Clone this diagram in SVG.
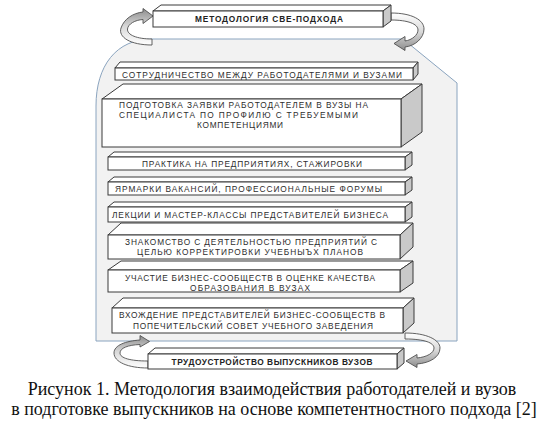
<svg xmlns="http://www.w3.org/2000/svg" width="548" height="428" viewBox="0 0 548 428">
<defs>
<linearGradient id="gv" x1="0" y1="0" x2="0" y2="1">
<stop offset="0" stop-color="#ffffff"/>
<stop offset="0.5" stop-color="#d9d9d9"/>
<stop offset="1" stop-color="#8c8c8c"/>
</linearGradient>
<linearGradient id="gv2" x1="0" y1="0" x2="0" y2="1">
<stop offset="0" stop-color="#8c8c8c"/>
<stop offset="0.5" stop-color="#d9d9d9"/>
<stop offset="1" stop-color="#ffffff"/>
</linearGradient>
</defs>
<style>
.front{fill:#ffffff;stroke:#3a3a3a;stroke-width:1}
.topf{fill:#ffffff;stroke:#3a3a3a;stroke-width:1;stroke-linejoin:round}
.side{fill:#c9c9c9;stroke:#3a3a3a;stroke-width:1;stroke-linejoin:round}
.t{font-family:"Liberation Sans","Open Sans",sans-serif;font-size:8.3px;fill:#2e2e2e;text-anchor:middle}
.b{font-weight:bold;fill:#222222}
.loop{stroke:#505050;stroke-width:0.9;stroke-linejoin:round}
.cap{font-family:"Liberation Serif","Times New Roman",serif;font-size:18px;fill:#111111;text-anchor:middle}
</style>
<rect width="548" height="428" fill="#ffffff"/>

<g id="panel">
<path d="M96,341 L457,341 L457,83 L403,39 L152,39 C116,39 96,66 96,106 Z" fill="#f2f2f2" stroke="#8aa4bf" stroke-width="1"/>
</g>

<g id="connectors">
<path class="loop" fill="url(#gv2)" d="M152,45 C130,45 118,37 121,28 C124,19 133,13 143,12 L143,8.5 L153,16 L143,23.5 L143,19.5 C135,20 128,24 127.5,29 C127,35 137,39 152,39 Z"/>
<path class="loop" fill="url(#gv)" d="M391,13 C412,13 424,20 424,29 C424,38 415,46 405,47 L405,50.5 L394,43.5 L405,36.5 L405,41 C412,40 418,35 418,30 C418,24 408,20 391,20 Z"/>
<path class="loop" fill="url(#gv2)" d="M148,368 C128,368 114,362 114,353 C114,345 126,341 140,340 L140,335.5 L149.5,341.5 L140,347 L140,344.5 C128,345 120,348 120,353 C120,358 130,361 148,361 Z"/>
<path class="loop" fill="url(#gv)" d="M405,333 C427,333 440,340 440,348 C440,357 430,363 417,364 L417,367.5 L406,361 L417,354.5 L417,358 C427,357 434,353 434,348 C434,343 425,339 405,339 Z"/>
</g>

<g id="n-top">
<polygon class="topf" points="153,11 161,5 391,5 383,11"/>
<polygon class="side" points="383,11 391,5 391,21 383,27"/>
<rect class="front" x="153" y="11" width="230" height="16"/>
<text class="t b" x="269" y="22" textLength="148">МЕТОДОЛОГИЯ СВЕ-ПОДХОДА</text>
</g>

<g id="n1">
<polygon class="topf" points="115,68 120,62 418,62 413,68"/>
<polygon class="side" points="413,68 418,62 418,74 413,80"/>
<rect class="front" x="115" y="68" width="298" height="12"/>
<text class="t" x="262" y="77.5" textLength="280">СОТРУДНИЧЕСТВО МЕЖДУ РАБОТОДАТЕЛЯМИ И ВУЗАМИ</text>
</g>

<g id="n2">
<polygon class="topf" points="102,99 123,84 422,84 401,99"/>
<polygon class="side" points="401,99 422,84 422,132 401,147"/>
<rect class="front" x="102" y="99" width="299" height="48"/>
<text class="t" x="243.5" y="107.5" textLength="249">ПОДГОТОВКА ЗАЯВКИ РАБОТОДАТЕЛЕМ В ВУЗЫ НА</text>
<text class="t" x="238.5" y="117.5" textLength="239">СПЕЦИАЛИСТА ПО ПРОФИЛЮ С ТРЕБУЕМЫМИ</text>
<text class="t" x="240" y="127.5" textLength="86">КОМПЕТЕНЦИЯМИ</text>
</g>

<g id="n3">
<polygon class="topf" points="108,157 114,152 412,152 405,157"/>
<polygon class="side" points="405,157 412,152 412,165 405,170"/>
<rect class="front" x="108" y="157" width="297" height="13"/>
<text class="t" x="252" y="166.8" textLength="220">ПРАКТИКА НА ПРЕДПРИЯТИЯХ, СТАЖИРОВКИ</text>
</g>

<g id="n4">
<polygon class="topf" points="108,182 114,177 412,177 405,182"/>
<polygon class="side" points="405,182 412,177 412,190 405,195"/>
<rect class="front" x="108" y="182" width="297" height="13"/>
<text class="t" x="248.5" y="191.8" textLength="267">ЯРМАРКИ ВАКАНСИЙ, ПРОФЕССИОНАЛЬНЫЕ ФОРУМЫ</text>
</g>

<g id="n5">
<polygon class="topf" points="108,207 114,202 412,202 405,207"/>
<polygon class="side" points="405,207 412,202 412,217 405,222"/>
<rect class="front" x="108" y="207" width="297" height="15"/>
<text class="t" x="250" y="217.5" textLength="276">ЛЕКЦИИ И МАСТЕР-КЛАССЫ ПРЕДСТАВИТЕЛЕЙ БИЗНЕСА</text>
</g>

<g id="n6">
<polygon class="topf" points="108,235 121,223 413,223 400,235"/>
<polygon class="side" points="400,235 413,223 413,247 400,259"/>
<rect class="front" x="108" y="235" width="292" height="24"/>
<text class="t" x="251" y="245" textLength="252">ЗНАКОМСТВО С ДЕЯТЕЛЬНОСТЬЮ ПРЕДПРИЯТИЙ С</text>
<text class="t" x="250" y="255" textLength="226">ЦЕЛЬЮ КОРРЕКТИРОВКИ УЧЕБНЫЪХ ПЛАНОВ</text>
</g>

<g id="n7">
<polygon class="topf" points="108,270 121,261 413,261 400,270"/>
<polygon class="side" points="400,270 413,261 413,283 400,292"/>
<rect class="front" x="108" y="270" width="292" height="22"/>
<text class="t" x="250" y="281" textLength="250">УЧАСТИЕ БИЗНЕС-СООБЩЕСТВ В ОЦЕНКЕ КАЧЕСТВА</text>
<text class="t" x="250" y="291" textLength="120">ОБРАЗОВАНИЯ В ВУЗАХ</text>
</g>

<g id="n8">
<polygon class="topf" points="112,308 123,298 414,298 403,308"/>
<polygon class="side" points="403,308 414,298 414,323 403,333"/>
<rect class="front" x="112" y="308" width="291" height="25"/>
<text class="t" x="252" y="318" textLength="266">ВХОЖДЕНИЕ ПРЕДСТАВИТЕЛЕЙ БИЗНЕС-СООБЩЕСТВ В</text>
<text class="t" x="253" y="328.5" textLength="240">ПОПЕЧИТЕЛЬСКИЙ СОВЕТ УЧЕБНОГО ЗАВЕДЕНИЯ</text>
</g>

<g id="n9">
<polygon class="topf" points="148,354 155,348 404,348 397,354"/>
<polygon class="side" points="397,354 404,348 404,363 397,369"/>
<rect class="front" x="148" y="354" width="249" height="15"/>
<text class="t b" x="272" y="364.5" textLength="201">ТРУДОУСТРОЙСТВО ВЫПУСКНИКОВ ВУЗОВ</text>
</g>

<g id="caption">
<text class="cap" x="272" y="395">Рисунок 1. Методология взаимодействия работодателей и вузов</text>
<text class="cap" x="274" y="415">в подготовке выпускников на основе компетентностного подхода [2]</text>
</g>
</svg>
